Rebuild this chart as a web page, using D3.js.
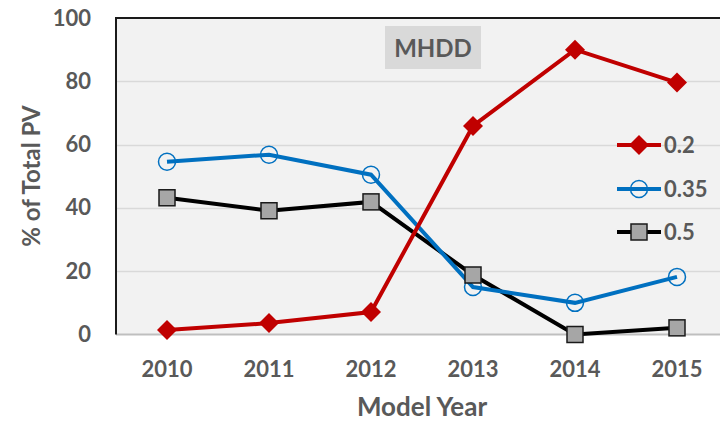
<!DOCTYPE html>
<html>
<head>
<meta charset="utf-8">
<script src="https://cdn.jsdelivr.net/npm/d3@7"></script>
<style>
  body { margin: 0; background: #fff; overflow: hidden; }
  text { font-family: Lato, "Open Sans", sans-serif; font-weight: 700; fill: #595959; }
</style>
</head>
<body>
<div id="chart"></div>
<script>
// chart data
const years = ["2010", "2011", "2012", "2013", "2014", "2015"];
const seriesNames = ["0.2", "0.35", "0.5"];
const values02 = [1.4, 3.6, 7.1, 65.9, 90.0, 79.6];
const values035 = [54.6, 56.8, 50.5, 15.0, 10.0, 18.2];
const values05 = [43.2, 39.1, 41.9, 18.8, 0.0, 2.1];
const yTicks = [0, 20, 40, 60, 80, 100];

const width = 720, height = 422;
const margin = { top: 18, right: -8, bottom: 88, left: 116 };

const svg = d3.select("#chart").append("svg")
  .attr("width", width)
  .attr("height", height);

const x = d3.scaleBand()
  .domain(years)
  .range([margin.left, width - margin.right]);

const y = d3.scaleLinear()
  .domain([0, 100])
  .range([height - margin.bottom + 0.5, margin.top]);

// plot background
svg.append("rect")
  .attr("x", margin.left)
  .attr("y", margin.top)
  .attr("width", width - margin.right - margin.left)
  .attr("height", y(0) - margin.top)
  .attr("fill", "#f2f2f2");

// gridlines
svg.append("g")
  .selectAll("line")
  .data(yTicks.filter(d => d > 0 && d < 100))
  .join("line")
  .attr("x1", margin.left)
  .attr("x2", width)
  .attr("y1", d => Math.round(y(d)) + 0.5)
  .attr("y2", d => Math.round(y(d)) + 0.5)
  .attr("stroke", "#d9d9d9")
  .attr("stroke-width", 1.5);

// bottom axis line
svg.append("line")
  .attr("x1", margin.left)
  .attr("x2", width)
  .attr("y1", y(0))
  .attr("y2", y(0))
  .attr("stroke", "#bfbfbf")
  .attr("stroke-width", 2);

// left and top border
svg.append("path")
  .attr("d", `M${margin.left},${y(0)}V${margin.top}H${width}`)
  .attr("fill", "none")
  .attr("stroke", "#1a1a1a")
  .attr("stroke-width", 2);

// y axis
const yAxis = svg.append("g")
  .attr("transform", `translate(${margin.left},0)`)
  .call(d3.axisLeft(y).tickValues(yTicks).tickSize(0).tickPadding(25));
yAxis.select(".domain").remove();
yAxis.selectAll("text")
  .style("font-size", "22px")
  .style("font-family", "Lato, sans-serif")
  .attr("fill", "#595959");

// x axis
const xAxis = svg.append("g")
  .attr("transform", `translate(0,${y(0)})`)
  .call(d3.axisBottom(x).tickSize(0).tickPadding(27));
xAxis.select(".domain").remove();
xAxis.selectAll("text")
  .style("font-size", "22px")
  .style("font-family", "Lato, sans-serif")
  .attr("fill", "#595959");

// axis titles
svg.append("text")
  .attr("x", 422)
  .attr("y", 416)
  .attr("text-anchor", "middle")
  .style("font-size", "26px")
  .text("Model Year");

svg.append("text")
  .attr("transform", "translate(40,176) rotate(-90)")
  .attr("text-anchor", "middle")
  .style("font-size", "24px")
  .text("% of Total PV");

// MHDD label
svg.append("rect")
  .attr("x", 385)
  .attr("y", 26)
  .attr("width", 96)
  .attr("height", 43)
  .attr("fill", "#d9d9d9");
svg.append("text")
  .attr("x", 433)
  .attr("y", 57)
  .attr("text-anchor", "middle")
  .style("font-size", "24px")
  .text("MHDD");

const series = [
  { name: seriesNames[0], values: values02, color: "#c00000", marker: "diamond" },
  { name: seriesNames[1], values: values035, color: "#0070c0", marker: "circle" },
  { name: seriesNames[2], values: values05, color: "#000000", marker: "square" }
];

const cx = d => x(d) + x.bandwidth() / 2;

const line = d3.line()
  .x((d, i) => cx(years[i]))
  .y(d => y(d));

function drawMarker(g, s) {
  if (s.marker === "diamond") {
    g.append("path")
      .attr("d", "M0,-10L10,0L0,10L-10,0Z")
      .attr("fill", s.color);
  } else if (s.marker === "circle") {
    g.append("circle")
      .attr("r", 8.5)
      .attr("fill", "none")
      .attr("stroke", s.color)
      .attr("stroke-width", 1.5);
  } else {
    g.append("rect")
      .attr("x", -8).attr("y", -8)
      .attr("width", 16).attr("height", 16)
      .attr("fill", "#a6a6a6")
      .attr("stroke", "#1a1a1a")
      .attr("stroke-width", 1.5);
  }
}

// draw lines + markers
series.slice().reverse().forEach(s => {
  svg.append("path")
    .datum(s.values)
    .attr("d", line)
    .attr("fill", "none")
    .attr("stroke", s.color)
    .attr("stroke-width", 4);
});
series.forEach(s => {
  s.values.forEach((v, i) => {
    const g = svg.append("g")
      .attr("transform", `translate(${cx(years[i])},${y(v)})`);
    drawMarker(g, s);
  });
});

// legend
const legendY = [145, 189, 232];
series.forEach((s, i) => {
  const g = svg.append("g").attr("transform", `translate(617,${legendY[i]})`);
  g.append("line")
    .attr("x1", 0).attr("x2", 44)
    .attr("stroke", s.color)
    .attr("stroke-width", 4);
  const m = g.append("g").attr("transform", "translate(22,0)");
  drawMarker(m, s);
  g.append("text")
    .attr("x", 47)
    .attr("y", 8)
    .style("font-size", "22px")
    .text(s.name);
});
</script>
</body>
</html>
